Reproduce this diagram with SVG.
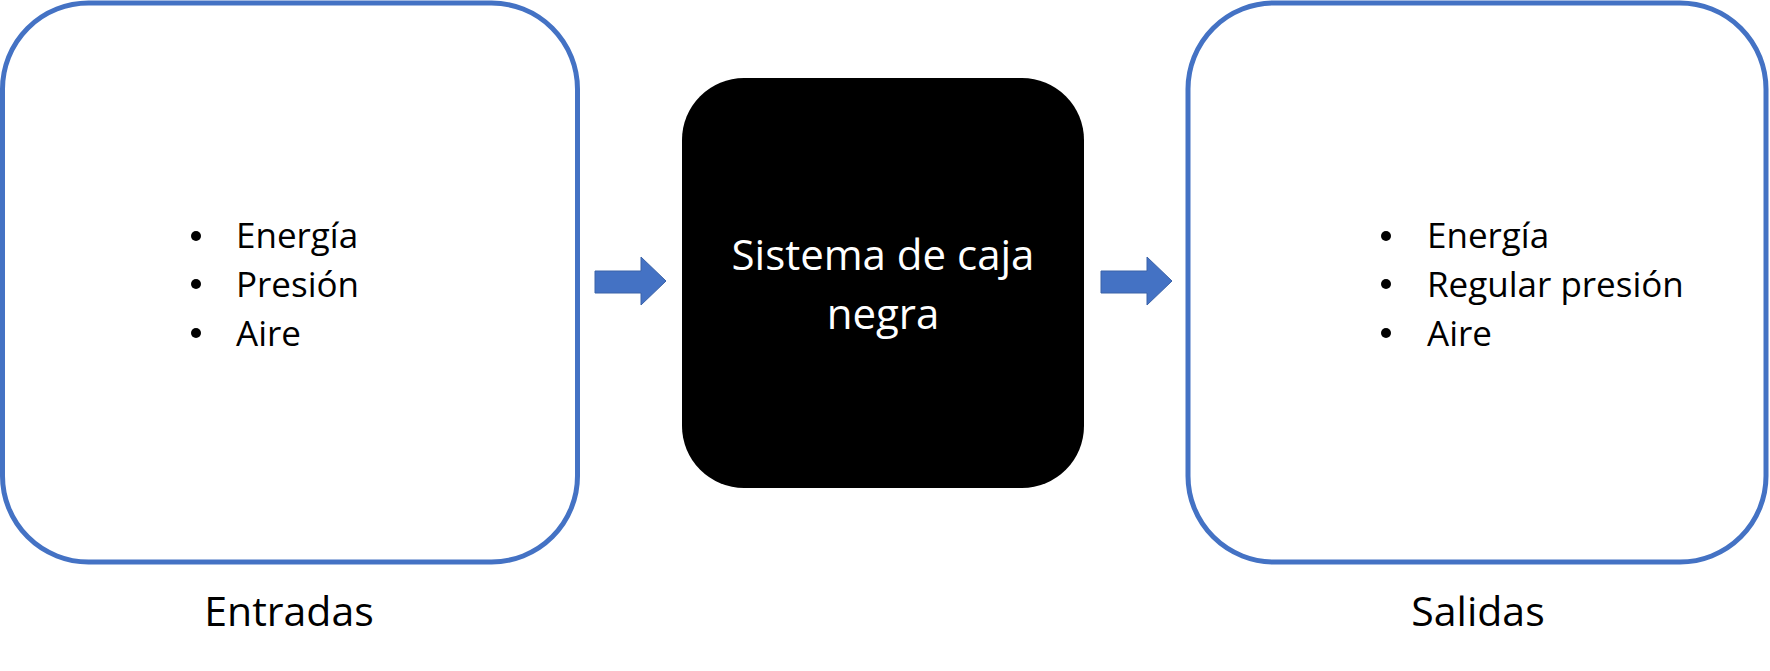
<svg xmlns="http://www.w3.org/2000/svg" width="1770" height="671" viewBox="0 0 1770 671">
<style>
.box{fill:#fff;stroke:#4472C4;stroke-width:5}
.t{font-family:"Open Sans","Liberation Sans",sans-serif;fill:#000}
.item{font-size:35px}
.lbl{font-size:41px;text-anchor:middle}
.w{fill:#fff;font-size:42px;text-anchor:middle}
.arrow{fill:#4472C4;stroke:#3a62a8;stroke-width:1}
</style>
<rect width="1770" height="671" fill="#fff"/>
<g id="entradas">
<rect class="box" x="2.5" y="3" width="575" height="559" rx="86" ry="86"/>
<circle cx="196" cy="236" r="5"/>
<circle cx="196" cy="284" r="5"/>
<circle cx="196" cy="333" r="5"/>
<text class="t item" x="236" y="248">Energía</text>
<text class="t item" x="236" y="297">Presión</text>
<text class="t item" x="236" y="346">Aire</text>
<text class="t lbl" x="289" y="626">Entradas</text>
</g>
<g id="caja">
<rect x="682" y="78" width="402" height="410" rx="62" ry="62" fill="#000"/>
<text class="t w" x="883" y="270">Sistema de caja</text>
<text class="t w" x="883" y="329">negra</text>
</g>
<g id="salidas">
<rect class="box" x="1188" y="3" width="578" height="559" rx="86" ry="86"/>
<circle cx="1386" cy="236" r="5"/>
<circle cx="1386" cy="284" r="5"/>
<circle cx="1386" cy="333" r="5"/>
<text class="t item" x="1427" y="248">Energía</text>
<text class="t item" x="1427" y="297">Regular presión</text>
<text class="t item" x="1427" y="346">Aire</text>
<text class="t lbl" x="1478" y="626">Salidas</text>
</g>
<g id="connectors">
<polygon class="arrow" points="595,271 641,271 641,257 666,281 641,305 641,293 595,293"/>
<polygon class="arrow" points="1101,271 1147,271 1147,257 1172,281 1147,305 1147,293 1101,293"/>
</g>
</svg>
